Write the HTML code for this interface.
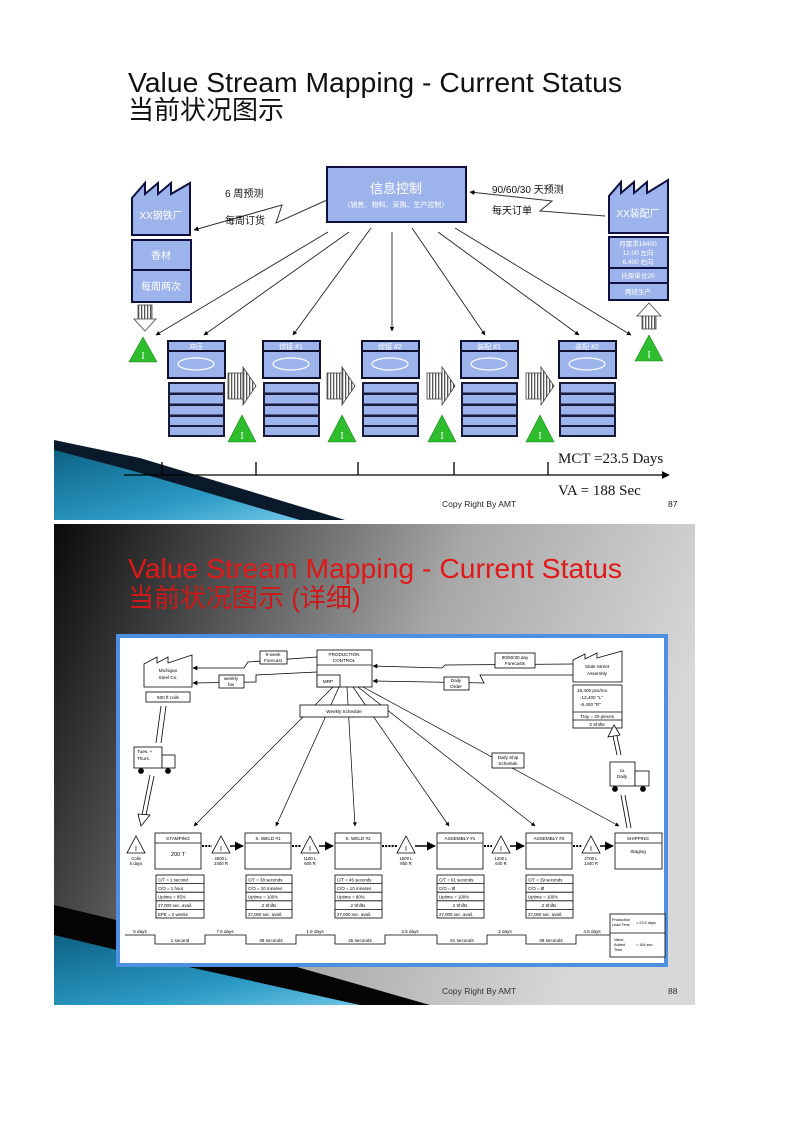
<!DOCTYPE html>
<html><head><meta charset="utf-8"><style>
html,body{margin:0;padding:0;background:#fff;width:794px;height:1123px;overflow:hidden}
svg{display:block}
.cn{font-family:"Liberation Sans","Noto Sans CJK SC",sans-serif}
.s{font-family:"Liberation Sans",sans-serif}
</style></head><body>
<svg width="794" height="1123" viewBox="0 0 794 1123" xmlns="http://www.w3.org/2000/svg">
<defs>
<linearGradient id="sw1" x1="0" y1="0" x2="1" y2="1"><stop offset="0" stop-color="#0b5e80"/><stop offset="0.6" stop-color="#2b9ac4"/><stop offset="1" stop-color="#7fd0ee"/></linearGradient>
<linearGradient id="bg2" x1="0" y1="0" x2="1" y2="0.3"><stop offset="0" stop-color="#0a0a0a"/><stop offset="0.25" stop-color="#4a4a4a"/><stop offset="0.6" stop-color="#a8a8a8"/><stop offset="1" stop-color="#d8d8d8"/></linearGradient>
<marker id="ah" viewBox="0 0 10 10" refX="9" refY="5" markerWidth="5" markerHeight="5" orient="auto"><path d="M0,0L10,5L0,10z" fill="#000"/></marker>
<marker id="ahb" viewBox="0 0 10 10" refX="9" refY="5" markerWidth="6" markerHeight="6" orient="auto"><path d="M0,0L10,5L0,10z" fill="#000"/></marker>
<pattern id="vs" width="3" height="4" patternUnits="userSpaceOnUse"><rect width="3" height="4" fill="#fff"/><rect width="1.3" height="4" fill="#555"/></pattern>
</defs>

<!-- ===== Slide 1 ===== -->
<text x="128" y="92" class="s" font-size="28" fill="#111" textLength="494" lengthAdjust="spacingAndGlyphs">Value Stream Mapping - Current Status</text>
<text x="128" y="119" class="cn" font-size="26" fill="#111">当前状况图示</text>

<rect x="327" y="167" width="139" height="55" fill="#9db3ec" stroke="#101040" stroke-width="2"/>
<text x="396" y="193" class="cn" font-size="13" fill="#fff" text-anchor="middle">信息控制</text>
<text x="396" y="207" class="cn" font-size="7" fill="#fff" text-anchor="middle">（销售、物料、采购、生产控制）</text>

<path d="M132,235 V198 L145,183 V194 L158,183 V194 L171,183 V194 L190,183 V235 Z" fill="#9db3ec" stroke="#101040" stroke-width="2"/>
<text x="161" y="219" class="cn" font-size="10" fill="#fff" text-anchor="middle">XX钢铁厂</text>
<rect x="132" y="240" width="59" height="30" fill="#9db3ec" stroke="#101040" stroke-width="2"/>
<rect x="132" y="270" width="59" height="32" fill="#9db3ec" stroke="#101040" stroke-width="2"/>
<text x="161" y="259" class="cn" font-size="10" fill="#fff" text-anchor="middle">香材</text>
<text x="161" y="290" class="cn" font-size="10" fill="#fff" text-anchor="middle">每周两次</text>

<path d="M609,233 V196 L621,182 V193 L634,182 V193 L647,182 V193 L668,180 V233 Z" fill="#9db3ec" stroke="#101040" stroke-width="2"/>
<text x="638" y="217" class="cn" font-size="10" fill="#fff" text-anchor="middle">XX装配厂</text>
<rect x="609" y="237" width="59" height="31" fill="#9db3ec" stroke="#101040" stroke-width="2"/>
<rect x="609" y="268" width="59" height="15" fill="#9db3ec" stroke="#101040" stroke-width="2"/>
<rect x="609" y="283" width="59" height="17" fill="#9db3ec" stroke="#101040" stroke-width="2"/>
<text x="638" y="246" class="cn" font-size="6.5" fill="#fff" text-anchor="middle">月需求18400</text>
<text x="638" y="255" class="cn" font-size="6.5" fill="#fff" text-anchor="middle">12,00 左向</text>
<text x="638" y="264" class="cn" font-size="6.5" fill="#fff" text-anchor="middle">6,400 右向</text>
<text x="638" y="278" class="cn" font-size="6.5" fill="#fff" text-anchor="middle">托架单位20</text>
<text x="638" y="294" class="cn" font-size="6.5" fill="#fff" text-anchor="middle">两班生产</text>

<polyline points="327,200 276,223 282,205 194,230" fill="none" stroke="#333" stroke-width="1" marker-end="url(#ah)"/>
<text x="225" y="197" class="cn" font-size="10" fill="#111">6 周预测</text>
<text x="225" y="224" class="cn" font-size="10" fill="#111">每周订货</text>
<polyline points="605,216 540,211 552,201 470,192" fill="none" stroke="#333" stroke-width="1" marker-end="url(#ah)"/>
<text x="492" y="193" class="cn" font-size="10" fill="#111">90/60/30 天预测</text>
<text x="492" y="214" class="cn" font-size="10" fill="#111">每天订单</text>

<g stroke="#222" stroke-width="0.9" fill="none" marker-end="url(#ah)">
<line x1="328" y1="232" x2="156" y2="335"/>
<line x1="349" y1="232" x2="204" y2="335"/>
<line x1="371" y1="228" x2="293" y2="335"/>
<line x1="392" y1="232" x2="392" y2="331"/>
<line x1="412" y1="228" x2="485" y2="335"/>
<line x1="438" y1="232" x2="579" y2="335"/>
<line x1="455" y1="228" x2="631" y2="335"/>
</g>

<g stroke="#444" stroke-width="0.8">
<rect x="138" y="305" width="14" height="15" fill="url(#vs)"/>
<path d="M134,319 H156 L145,331 Z" fill="#fff"/>
<rect x="642" y="315" width="14" height="14" fill="url(#vs)"/>
<path d="M637,316 H661 L649,303 Z" fill="#fff"/>
</g>

<g fill="#2dbd2d" stroke="#1a8a1a" stroke-width="0.6">
<path d="M143,337 L157,362 L129,362 Z"/>
<path d="M649,335 L663,361 L635,361 Z"/>
<path d="M242,415 L256,442 L228,442 Z"/>
<path d="M342,415 L356,442 L328,442 Z"/>
<path d="M442,415 L456,442 L428,442 Z"/>
<path d="M540,415 L554,442 L526,442 Z"/>
</g>
<g font-family="Liberation Serif,serif" font-size="10" fill="#fff" text-anchor="middle">
<text x="143" y="359">I</text><text x="649" y="358">I</text><text x="242" y="439">I</text><text x="342" y="439">I</text><text x="442" y="439">I</text><text x="540" y="439">I</text>
</g>

<g stroke="#101030" stroke-width="2">
<rect x="168" y="341" width="57" height="37" fill="#9db3ec"/>
<rect x="263" y="341" width="57" height="37" fill="#9db3ec"/>
<rect x="362" y="341" width="57" height="37" fill="#9db3ec"/>
<rect x="461" y="341" width="57" height="37" fill="#9db3ec"/>
<rect x="559" y="341" width="57" height="37" fill="#9db3ec"/>
<line x1="168" y1="351" x2="225" y2="351"/><line x1="263" y1="351" x2="320" y2="351"/><line x1="362" y1="351" x2="419" y2="351"/><line x1="461" y1="351" x2="518" y2="351"/><line x1="559" y1="351" x2="616" y2="351"/>
</g>
<g fill="none" stroke="#fff" stroke-width="1.2">
<ellipse cx="196" cy="364" rx="18" ry="6"/><ellipse cx="291" cy="364" rx="18" ry="6"/><ellipse cx="390" cy="364" rx="18" ry="6"/><ellipse cx="489" cy="364" rx="18" ry="6"/><ellipse cx="587" cy="364" rx="18" ry="6"/>
</g>
<g class="cn" font-size="7" fill="#fff" text-anchor="middle">
<text x="196" y="349">冲压</text><text x="291" y="349">焊接 #1</text><text x="390" y="349">焊接 #2</text><text x="489" y="349">装配 #1</text><text x="587" y="349">装配 #2</text>
</g>
<g fill="#1a1a3a">
<rect x="168" y="382" width="57" height="55"/><rect x="263" y="382" width="57" height="55"/><rect x="362" y="382" width="57" height="55"/><rect x="461" y="382" width="57" height="55"/><rect x="559" y="382" width="57" height="55"/>
</g>
<g fill="#9db3ec">
<rect x="170" y="384" width="53" height="8.5"/><rect x="170" y="395" width="53" height="8.5"/><rect x="170" y="406" width="53" height="8.5"/><rect x="170" y="417" width="53" height="8"/><rect x="170" y="427" width="53" height="8"/>
<rect x="265" y="384" width="53" height="8.5"/><rect x="265" y="395" width="53" height="8.5"/><rect x="265" y="406" width="53" height="8.5"/><rect x="265" y="417" width="53" height="8"/><rect x="265" y="427" width="53" height="8"/>
<rect x="364" y="384" width="53" height="8.5"/><rect x="364" y="395" width="53" height="8.5"/><rect x="364" y="406" width="53" height="8.5"/><rect x="364" y="417" width="53" height="8"/><rect x="364" y="427" width="53" height="8"/>
<rect x="463" y="384" width="53" height="8.5"/><rect x="463" y="395" width="53" height="8.5"/><rect x="463" y="406" width="53" height="8.5"/><rect x="463" y="417" width="53" height="8"/><rect x="463" y="427" width="53" height="8"/>
<rect x="561" y="384" width="53" height="8.5"/><rect x="561" y="395" width="53" height="8.5"/><rect x="561" y="406" width="53" height="8.5"/><rect x="561" y="417" width="53" height="8"/><rect x="561" y="427" width="53" height="8"/>
</g>
<g stroke="#444" stroke-width="0.8">
<rect x="228" y="373" width="15" height="26" fill="url(#vs)"/><path d="M243,367 L256,386 L243,405 Z" fill="url(#vs)"/>
<rect x="327" y="373" width="15" height="26" fill="url(#vs)"/><path d="M342,367 L355,386 L342,405 Z" fill="url(#vs)"/>
<rect x="427" y="373" width="15" height="26" fill="url(#vs)"/><path d="M442,367 L455,386 L442,405 Z" fill="url(#vs)"/>
<rect x="526" y="373" width="15" height="26" fill="url(#vs)"/><path d="M541,367 L554,386 L541,405 Z" fill="url(#vs)"/>
</g>

<path d="M54,443 L150,465 L345,520 L54,520 Z" fill="url(#sw1)"/>
<path d="M54,440 L140,458 L345,520 L300,520 L130,470 L54,450 Z" fill="#0b1a2a"/>

<line x1="124" y1="475" x2="669" y2="475" stroke="#000" stroke-width="1.3" marker-end="url(#ahb)"/>
<g stroke="#000" stroke-width="1.3"><line x1="162" y1="462" x2="162" y2="475"/><line x1="256" y1="462" x2="256" y2="475"/><line x1="358" y1="462" x2="358" y2="475"/><line x1="454" y1="462" x2="454" y2="475"/><line x1="548" y1="462" x2="548" y2="475"/></g>
<text x="558" y="463" font-family="Liberation Serif,serif" font-size="15" fill="#111">MCT =23.5 Days</text>
<text x="558" y="495" font-family="Liberation Serif,serif" font-size="15" fill="#111">VA = 188 Sec</text>
<text x="442" y="507" class="s" font-size="8.5" fill="#222">Copy Right By AMT</text>
<text x="668" y="507" class="s" font-size="8.5" fill="#222">87</text>

<!-- ===== Slide 2 ===== -->
<rect x="54" y="524" width="641" height="481" fill="url(#bg2)"/>
<path d="M54,930 L200,965 L430,1005 L54,1005 Z" fill="url(#sw1)"/>
<path d="M54,905 L220,945 L430,1005 L360,1005 L180,965 L54,935 Z" fill="#050505"/>
<text x="128" y="578" class="s" font-size="28" fill="#e01818" textLength="494" lengthAdjust="spacingAndGlyphs">Value Stream Mapping - Current Status</text>
<text x="128" y="607" class="cn" font-size="26" fill="#d01818">当前状况图示 (详细)</text>
<text x="442" y="994" class="s" font-size="8.5" fill="#333">Copy Right By AMT</text>
<text x="668" y="994" class="s" font-size="8.5" fill="#333">88</text>

<rect x="118" y="636" width="548" height="329" fill="#fff" stroke="#4d8fe0" stroke-width="4"/>

<g stroke="#000" stroke-width="0.8" fill="#fff" font-family="Liberation Sans,sans-serif" font-size="4.6">
<path d="M144,687 V664 L157,657 V663 L168,657 V663 L192,655 V687 Z"/>
<text x="168" y="672" text-anchor="middle" stroke="none" fill="#000">Michigan</text>
<text x="168" y="679" text-anchor="middle" stroke="none" fill="#000">Steel Co.</text>
<rect x="146" y="692" width="44" height="10"/>
<text x="168" y="699" text-anchor="middle" stroke="none" fill="#000">500 ft coils</text>
<rect x="317" y="650" width="55" height="37"/>
<line x1="317" y1="665" x2="372" y2="665"/>
<rect x="317" y="675" width="23" height="12"/>
<text x="344" y="656" text-anchor="middle" stroke="none" fill="#000">PRODUCTION</text>
<text x="344" y="662" text-anchor="middle" stroke="none" fill="#000">CONTROL</text>
<text x="328" y="683" text-anchor="middle" stroke="none" fill="#000">MRP</text>
<polyline points="317,657 248,662 244,668 193,668" fill="none" marker-end="url(#ahb)"/>
<polyline points="317,672 256,675 256,682 193,683" fill="none" marker-end="url(#ahb)"/>
<rect x="260" y="651" width="27" height="13"/>
<text x="273" y="656" text-anchor="middle" stroke="none" fill="#000">6-week</text>
<text x="273" y="662" text-anchor="middle" stroke="none" fill="#000">Forecast</text>
<rect x="219" y="675" width="25" height="13"/>
<text x="231" y="680" text-anchor="middle" stroke="none" fill="#000">weekly</text>
<text x="231" y="686" text-anchor="middle" stroke="none" fill="#000">fax</text>
<polyline points="573,664 445,665 442,668 373,666" fill="none" marker-end="url(#ahb)"/>
<polyline points="573,675 480,675 484,683 373,681" fill="none" marker-end="url(#ahb)"/>
<rect x="495" y="653" width="40" height="15"/>
<text x="515" y="659" text-anchor="middle" stroke="none" fill="#000">90/60/30 day</text>
<text x="515" y="665" text-anchor="middle" stroke="none" fill="#000">Forecasts</text>
<rect x="444" y="677" width="25" height="13"/>
<text x="456" y="682" text-anchor="middle" stroke="none" fill="#000">Daily</text>
<text x="456" y="688" text-anchor="middle" stroke="none" fill="#000">Order</text>
<path d="M573,682 V660 L585,654 V659 L597,653 V658 L622,651 V682 Z"/>
<text x="597" y="668" text-anchor="middle" stroke="none" fill="#000">State Street</text>
<text x="597" y="675" text-anchor="middle" stroke="none" fill="#000">Assembly</text>
<rect x="573" y="685" width="49" height="43"/>
<line x1="573" y1="712" x2="622" y2="712"/><line x1="573" y1="720" x2="622" y2="720"/>
<text x="577" y="692" stroke="none" fill="#000">18,400 pcs/mo</text>
<text x="580" y="699" stroke="none" fill="#000">-12,400 "L"</text>
<text x="580" y="706" stroke="none" fill="#000">-6,400 "R"</text>
<text x="597" y="718" text-anchor="middle" stroke="none" fill="#000">Tray = 20 pieces</text>
<text x="597" y="726" text-anchor="middle" stroke="none" fill="#000">2 Shifts</text>
<g fill="none" stroke-width="0.7" marker-end="url(#ahb)">
<line x1="333" y1="687" x2="194" y2="826"/>
<line x1="339" y1="687" x2="276" y2="826"/>
<line x1="347" y1="687" x2="355" y2="826"/>
<line x1="353" y1="687" x2="449" y2="826"/>
<line x1="358" y1="687" x2="535" y2="826"/>
<line x1="363" y1="687" x2="619" y2="826"/>
</g>
<rect x="300" y="705" width="88" height="12"/>
<text x="344" y="713" text-anchor="middle" stroke="none" fill="#000">Weekly Schedule</text>
<rect x="492" y="753" width="32" height="15"/>
<text x="508" y="759" text-anchor="middle" stroke="none" fill="#000">Daily Ship</text>
<text x="508" y="765" text-anchor="middle" stroke="none" fill="#000">Schedule</text>
<rect x="134" y="747" width="28" height="21"/><rect x="162" y="755" width="13" height="13"/>
<circle cx="141" cy="771" r="2.5" fill="#000"/><circle cx="168" cy="771" r="2.5" fill="#000"/>
<text x="137" y="753" stroke="none" fill="#000">Tues. +</text>
<text x="137" y="760" stroke="none" fill="#000">Thurs.</text>
<rect x="610" y="762" width="25" height="24"/><rect x="635" y="771" width="14" height="15"/>
<circle cx="615" cy="789" r="2.5" fill="#000"/><circle cx="643" cy="789" r="2.5" fill="#000"/>
<text x="622" y="772" text-anchor="middle" stroke="none" fill="#000">1x</text>
<text x="622" y="778" text-anchor="middle" stroke="none" fill="#000">Daily</text>
<line x1="161" y1="706" x2="156" y2="743"/><line x1="166" y1="706" x2="161" y2="743"/>
<line x1="150" y1="775" x2="142" y2="815"/><line x1="154" y1="776" x2="146" y2="815"/>
<path d="M138,814 L150,815 L141,826 Z"/>
<line x1="617" y1="755" x2="613" y2="736"/><line x1="621" y1="755" x2="617" y2="736"/>
<path d="M608,737 L620,735 L614,725 Z"/>
<line x1="621" y1="795" x2="627" y2="828"/><line x1="625" y1="795" x2="631" y2="828"/>
<rect x="155" y="833" width="46" height="36"/><line x1="155" y1="843" x2="201" y2="843"/>
<rect x="245" y="833" width="46" height="36"/><line x1="245" y1="843" x2="291" y2="843"/>
<rect x="335" y="833" width="46" height="36"/><line x1="335" y1="843" x2="381" y2="843"/>
<rect x="437" y="833" width="46" height="36"/><line x1="437" y1="843" x2="483" y2="843"/>
<rect x="526" y="833" width="46" height="36"/><line x1="526" y1="843" x2="572" y2="843"/>
<rect x="615" y="833" width="47" height="36"/><line x1="615" y1="843" x2="662" y2="843"/>
<g stroke="none" fill="#000" text-anchor="middle">
<text x="178" y="840">STAMPING</text><text x="178" y="856" font-size="5.5">200 T</text>
<text x="268" y="840">S. WELD #1</text><text x="358" y="840">S. WELD #2</text>
<text x="460" y="840">ASSEMBLY #1</text><text x="549" y="840">ASSEMBLY #2</text>
<text x="638" y="840">SHIPPING</text><text x="638" y="853">Staging</text>
</g>
<path d="M136,836 L145,853 L127,853 Z"/><path d="M221,836 L230,853 L212,853 Z"/><path d="M310,836 L319,853 L301,853 Z"/><path d="M406,836 L415,853 L397,853 Z"/><path d="M501,836 L510,853 L492,853 Z"/><path d="M591,836 L600,853 L582,853 Z"/>
<g stroke="none" fill="#000" text-anchor="middle" font-size="7">
<text x="136" y="851">I</text><text x="221" y="851">I</text><text x="310" y="851">I</text><text x="406" y="851">I</text><text x="501" y="851">I</text><text x="591" y="851">I</text>
</g>
<g stroke="none" fill="#000" text-anchor="middle" font-size="4.3">
<text x="136" y="860">Coils</text><text x="136" y="865">5 days</text>
<text x="221" y="860">4600 L</text><text x="221" y="865">2400 R</text>
<text x="310" y="860">1100 L</text><text x="310" y="865">600 R</text>
<text x="406" y="860">1600 L</text><text x="406" y="865">850 R</text>
<text x="501" y="860">1200 L</text><text x="501" y="865">640 R</text>
<text x="591" y="860">2700 L</text><text x="591" y="865">1440 R</text>
</g>
<g stroke-width="2" stroke-dasharray="2,1.2"><line x1="202" y1="846" x2="212" y2="846"/><line x1="292" y1="846" x2="301" y2="846"/><line x1="382" y1="846" x2="397" y2="846"/><line x1="484" y1="846" x2="492" y2="846"/><line x1="573" y1="846" x2="582" y2="846"/></g>
<g marker-end="url(#ahb)" stroke-width="1.5"><line x1="230" y1="846" x2="243" y2="846"/><line x1="319" y1="846" x2="333" y2="846"/><line x1="415" y1="846" x2="435" y2="846"/><line x1="510" y1="846" x2="524" y2="846"/><line x1="600" y1="846" x2="613" y2="846"/></g>
<rect x="156" y="875" width="48" height="43"/>
<line x1="156" y1="883.6" x2="204" y2="883.6"/><line x1="156" y1="892.2" x2="204" y2="892.2"/><line x1="156" y1="900.8" x2="204" y2="900.8"/><line x1="156" y1="909.4" x2="204" y2="909.4"/>
<rect x="246" y="875" width="46" height="43"/>
<line x1="246" y1="883.6" x2="292" y2="883.6"/><line x1="246" y1="892.2" x2="292" y2="892.2"/><line x1="246" y1="900.8" x2="292" y2="900.8"/><line x1="246" y1="909.4" x2="292" y2="909.4"/>
<rect x="335" y="875" width="47" height="43"/>
<line x1="335" y1="883.6" x2="382" y2="883.6"/><line x1="335" y1="892.2" x2="382" y2="892.2"/><line x1="335" y1="900.8" x2="382" y2="900.8"/><line x1="335" y1="909.4" x2="382" y2="909.4"/>
<rect x="437" y="875" width="47" height="43"/>
<line x1="437" y1="883.6" x2="484" y2="883.6"/><line x1="437" y1="892.2" x2="484" y2="892.2"/><line x1="437" y1="900.8" x2="484" y2="900.8"/><line x1="437" y1="909.4" x2="484" y2="909.4"/>
<rect x="526" y="875" width="47" height="43"/>
<line x1="526" y1="883.6" x2="573" y2="883.6"/><line x1="526" y1="892.2" x2="573" y2="892.2"/><line x1="526" y1="900.8" x2="573" y2="900.8"/><line x1="526" y1="909.4" x2="573" y2="909.4"/>
<g stroke="none" fill="#000" font-size="4.4">
<text x="158" y="881.5">C/T = 1 second</text><text x="158" y="890">C/O = 1 hour</text><text x="158" y="898.6">Uptime = 85%</text><text x="158" y="907.2">27,000 sec. avail.</text><text x="158" y="915.8">EPE = 2 weeks</text>
<text x="248" y="881.5">C/T = 38 seconds</text><text x="248" y="890">C/O = 10 minutes</text><text x="248" y="898.6">Uptime = 100%</text><text x="269" y="907.2" text-anchor="middle">2 Shifts</text><text x="248" y="915.8">27,000 sec. avail.</text>
<text x="337" y="881.5">C/T = 45 seconds</text><text x="337" y="890">C/O = 10 minutes</text><text x="337" y="898.6">Uptime = 80%</text><text x="358" y="907.2" text-anchor="middle">2 Shifts</text><text x="337" y="915.8">27,000 sec. avail.</text>
<text x="439" y="881.5">C/T = 61 seconds</text><text x="439" y="890">C/O = Ø</text><text x="439" y="898.6">Uptime = 100%</text><text x="460" y="907.2" text-anchor="middle">2 Shifts</text><text x="439" y="915.8">27,000 sec. avail.</text>
<text x="528" y="881.5">C/T = 39 seconds</text><text x="528" y="890">C/O = Ø</text><text x="528" y="898.6">Uptime = 100%</text><text x="549" y="907.2" text-anchor="middle">2 Shifts</text><text x="528" y="915.8">27,000 sec. avail.</text>
</g>
<polyline points="125,935 155,935 155,944 205,944 205,935 246,935 246,944 296,944 296,935 335,935 335,944 385,944 385,935 437,935 437,944 487,944 487,935 526,935 526,944 576,944 576,935 612,935" fill="none"/>
<g stroke="none" fill="#000" font-size="4.6" text-anchor="middle">
<text x="140" y="933">5 days</text><text x="225" y="933">7.6 days</text><text x="315" y="933">1.8 days</text><text x="410" y="933">2.6 days</text><text x="505" y="933">2 days</text><text x="592" y="933">4.5 days</text>
<text x="180" y="942">1 second</text><text x="271" y="942">38 seconds</text><text x="360" y="942">45 seconds</text><text x="462" y="942">61 seconds</text><text x="551" y="942">39 seconds</text>
</g>
<rect x="610" y="914" width="55" height="43"/><line x1="610" y1="933" x2="665" y2="933"/>
<g stroke="none" fill="#000" font-size="3.8">
<text x="612" y="921">Production</text><text x="612" y="926">Lead Time</text><text x="636" y="924">= 23.5 days</text>
<text x="614" y="941">Value</text><text x="614" y="946">Added</text><text x="614" y="951">Time</text><text x="636" y="946">= 184 sec.</text>
</g>
</g>
</svg>
</body></html>
